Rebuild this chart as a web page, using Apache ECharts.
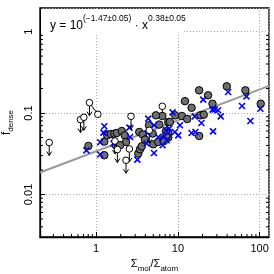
<!DOCTYPE html>
<html><head><meta charset="utf-8">
<script src="https://cdn.jsdelivr.net/npm/echarts@6/dist/echarts.min.js"></script>
<style>html,body{margin:0;padding:0;background:#fff}#c{width:274px;height:274px}</style>
</head><body><div id="c"></div>
<script>
// ---- data ----
const grayX = [0.805,1.39,1.26,1.26,6.45,5.39,5.91,7.62,1.37,1.52,1.67,1.79,2.06,2.24,3.37,3.71,4.91,7.62,1.74,2.32,1.96,3.28,3.44,3.61,3.96,5.0,5.75,6.62,7.62,18.2,23.4,12.2,14.7,26.5,39.6,9.27,11.2,13.0,18.9,20.7,7.99,7.14,7.28,6.75,18.2,66.9,103,4.43];
const grayY = [0.0394,0.0543,0.0446,0.0303,0.0919,0.0937,0.0721,0.0776,0.0532,0.0552,0.0558,0.0569,0.0601,0.0532,0.0585,0.0543,0.0559,0.0575,0.0402,0.0441,0.0402,0.0318,0.0359,0.0390,0.0472,0.0413,0.0441,0.0472,0.0499,0.190,0.165,0.140,0.116,0.130,0.213,0.0937,0.0919,0.0844,0.0937,0.0955,0.0776,0.0596,0.0508,0.0453,0.0522,0.190,0.130,0.0708];
const blueX = [0.761,1.26,1.23,1.12,1.12,4.34,5.10,2.55,2.60,4.27,7.14,1.63,3.19,4.15,5.10,5.75,6.75,7.28,20.4,28.3,31.0,33.4,41.1,8.62,16.1,19.4,10.6,7.83,9.19,10.1,6.51,14.7,16.4,26.9,68.9,60.8,77.0,102,26.5];
const blueY = [0.0348,0.0687,0.0575,0.0437,0.0309,0.0854,0.0707,0.0662,0.0508,0.0569,0.0613,0.0422,0.0268,0.0422,0.0323,0.0508,0.0508,0.0463,0.146,0.111,0.108,0.0911,0.181,0.102,0.0911,0.0754,0.0707,0.0644,0.0585,0.0532,0.0402,0.0569,0.0585,0.0596,0.160,0.122,0.0798,0.113,0.110];
const openX = [0.267,0.644,0.708,0.829,1.05,6.45,2.67,4.47,1.70,1.82,2.55,2.32];
const openY = [0.0434,0.0830,0.0886,0.134,0.0964,0.121,0.0911,0.0613,0.0453,0.0356,0.0362,0.0263];
const openLimit = [1,1,1,1,0,0,1,1,1,1,1,1];
const pairA = [[0.829,0.134],[6.45,0.121]];
const pairB = [[1.05,0.0964],[6.45,0.0919]];
const fitLogA = -1.47, fitSlope = 0.38;
const xRange = [0.206, 130], yRange = [0.003, 1.95];
const xTicks = [1, 10, 100], xTickLabels = ['1', '10', '100'];
const yTicks = [0.01, 0.1, 1], yTickLabels = ['0.01', '0.1', '1'];

function lookup(v, ticks, labels) {
  for (let i = 0; i < ticks.length; i++) if (Math.abs(Math.log10(v) - Math.log10(ticks[i])) < 1e-6) return labels[i];
  return '';
}
const minorX = [], minorY = [];
for (const d of [0.1, 1, 10, 100]) for (let k = 2; k <= 9; k++) { const v = d * k; if (v > xRange[0] && v < xRange[1]) minorX.push([v, 0.1]); }
for (const d of [0.001, 0.01, 0.1, 1]) for (let k = 2; k <= 9; k++) { const v = d * k; if (v > yRange[0] && v < yRange[1]) minorY.push([1, v]); }

const fitLine = xRange.map(x => [x, Math.pow(10, fitLogA + fitSlope * Math.log10(x))]);

const font = 'Liberation Sans, Arial, sans-serif';
const chart = echarts.init(document.getElementById('c'), null, {renderer: 'canvas'});
chart.setOption({
  animation: false,
  backgroundColor: '#fff',
  grid: {left: 40, right: 5, top: 8, bottom: 37, containLabel: false, outerBoundsMode: 'none',
    show: true, borderColor: '#000', borderWidth: 1.3, backgroundColor: 'transparent'},
  xAxis: {
    type: 'log', min: xRange[0], max: xRange[1], logBase: 10,
    axisLine: {show: true, lineStyle: {color: '#000', width: 1.3}},
    axisTick: {show: true, inside: true, length: 5, lineStyle: {color: '#000'}},
    axisLabel: {show: true, showMinLabel: false, showMaxLabel: false, color: '#000', fontSize: 11, fontFamily: font, margin: 6,
      formatter: v => lookup(v, xTicks, xTickLabels)},
    splitLine: {show: true, lineStyle: {color: '#aaa', type: [1, 2], width: 1}},
    minorTick: {show: false},
    name: '{a|Σ}{b|mol}{a|/Σ}{b|atom}', nameLocation: 'middle', nameGap: 18,
    nameTextStyle: {fontFamily: font, color: '#000', rich: {
      a: {fontSize: 11, fontFamily: font, color: '#000', lineHeight: 16, verticalAlign: 'middle'},
      b: {fontSize: 8, fontFamily: font, color: '#000', lineHeight: 16, verticalAlign: 'bottom', padding: [5, 0, 0, 0]}}}
  },
  yAxis: {
    type: 'log', min: yRange[0], max: yRange[1], logBase: 10,
    axisLine: {show: true, lineStyle: {color: '#000', width: 1.3}},
    axisTick: {show: true, inside: true, length: 5, lineStyle: {color: '#000'}},
    axisLabel: {show: true, showMinLabel: false, showMaxLabel: false, color: '#000', fontSize: 11, fontFamily: font, margin: 6, rotate: 90,
      formatter: v => lookup(v, yTicks, yTickLabels)},
    splitLine: {show: true, lineStyle: {color: '#aaa', type: [1, 2], width: 1}},
    name: '{a|f}{b|dense}', nameLocation: 'middle', nameGap: 21, nameRotate: 90,
    nameTextStyle: {fontFamily: font, color: '#000', rich: {
      a: {fontSize: 12, fontFamily: font, color: '#000', lineHeight: 16, verticalAlign: 'middle'},
      b: {fontSize: 8, fontFamily: font, color: '#000', lineHeight: 16, verticalAlign: 'bottom', padding: [5, 0, 0, 0]}}}
  },
  graphic: [
    {type: 'rect', shape: {x: 41, y: 9, width: 141, height: 24}, style: {fill: '#fff'}, z: 1},
    {type: 'text', x: 50, y: 14, z: 2, style: {
      text: '{a|y = 10}{s|(−1.47±0.05)}{a| · x}{s|0.38±0.05}',
      font: '12px ' + font, fill: '#000',
      rich: {
        a: {fontSize: 12, fontFamily: font, fill: '#000', lineHeight: 18, verticalAlign: 'bottom'},
        s: {fontSize: 8.5, fontFamily: font, fill: '#000', lineHeight: 18, verticalAlign: 'top'}
      }}}
  ],
  series: [
    {type: 'line', data: fitLine, showSymbol: false, symbol: 'none', lineStyle: {color: '#999', width: 2}, z: 3, silent: true},
    {type: 'custom', data: minorX, z: 4, silent: true, clip: false,
      renderItem: (p, api) => {
        const c = api.coord([api.value(0), 1]); const cs = p.coordSys; const yb = cs.y + cs.height;
        return {type: 'line', shape: {x1: c[0], y1: yb, x2: c[0], y2: yb - 3}, style: {stroke: '#000', lineWidth: 1}};
      }},
    {type: 'custom', data: minorY, z: 4, silent: true, clip: false,
      renderItem: (p, api) => {
        const c = api.coord([1, api.value(1)]); const cs = p.coordSys; const xr = cs.x + cs.width;
        return {type: 'group', children: [
          {type: 'line', shape: {x1: cs.x, y1: c[1], x2: cs.x + 3, y2: c[1]}, style: {stroke: '#000', lineWidth: 1}},
          {type: 'line', shape: {x1: xr, y1: c[1], x2: xr - 3, y2: c[1]}, style: {stroke: '#000', lineWidth: 1}}]};
      }},
    {type: 'custom', data: pairA.map((a, i) => [a[0], a[1], pairB[i][0], pairB[i][1]]), z: 5, silent: true,
      renderItem: (p, api) => {
        const a = api.coord([api.value(0), api.value(1)]), b = api.coord([api.value(2), api.value(3)]);
        return {type: 'line', shape: {x1: a[0], y1: a[1], x2: b[0], y2: b[1]}, style: {stroke: '#000', lineWidth: 1}};
      }},
    {type: 'scatter', data: grayX.map((x, i) => [x, grayY[i]]), symbol: 'circle', symbolSize: 7.5, z: 6,
      itemStyle: {color: '#6e6e6e', borderColor: '#000', borderWidth: 1, opacity: 1}},
    {type: 'scatter', data: blueX.map((x, i) => [x, blueY[i]]), symbol: 'path://M0,0L10,10M10,0L0,10', symbolSize: 6, z: 7,
      itemStyle: {color: 'none', borderColor: '#0000ff', borderWidth: 1.6, opacity: 1}},
    {type: 'custom', data: openX.map((x, i) => [x, openY[i], openLimit[i]]), z: 8, silent: true,
      renderItem: (p, api) => {
        const c = api.coord([api.value(0), api.value(1)]); const r = 3.3;
        const ch = [];
        if (api.value(2)) {
          ch.push({type: 'line', shape: {x1: c[0], y1: c[1] + r, x2: c[0], y2: c[1] + 13}, style: {stroke: '#000', lineWidth: 1}});
          ch.push({type: 'polyline', shape: {points: [[c[0] - 2.5, c[1] + 9], [c[0], c[1] + 13], [c[0] + 2.5, c[1] + 9]]}, style: {stroke: '#000', fill: null, lineWidth: 1}});
        }
        ch.push({type: 'circle', shape: {cx: c[0], cy: c[1], r: r}, style: {fill: '#fff', stroke: '#000', lineWidth: 1}});
        return {type: 'group', children: ch};
      }}
  ]
});
</script></body></html>
